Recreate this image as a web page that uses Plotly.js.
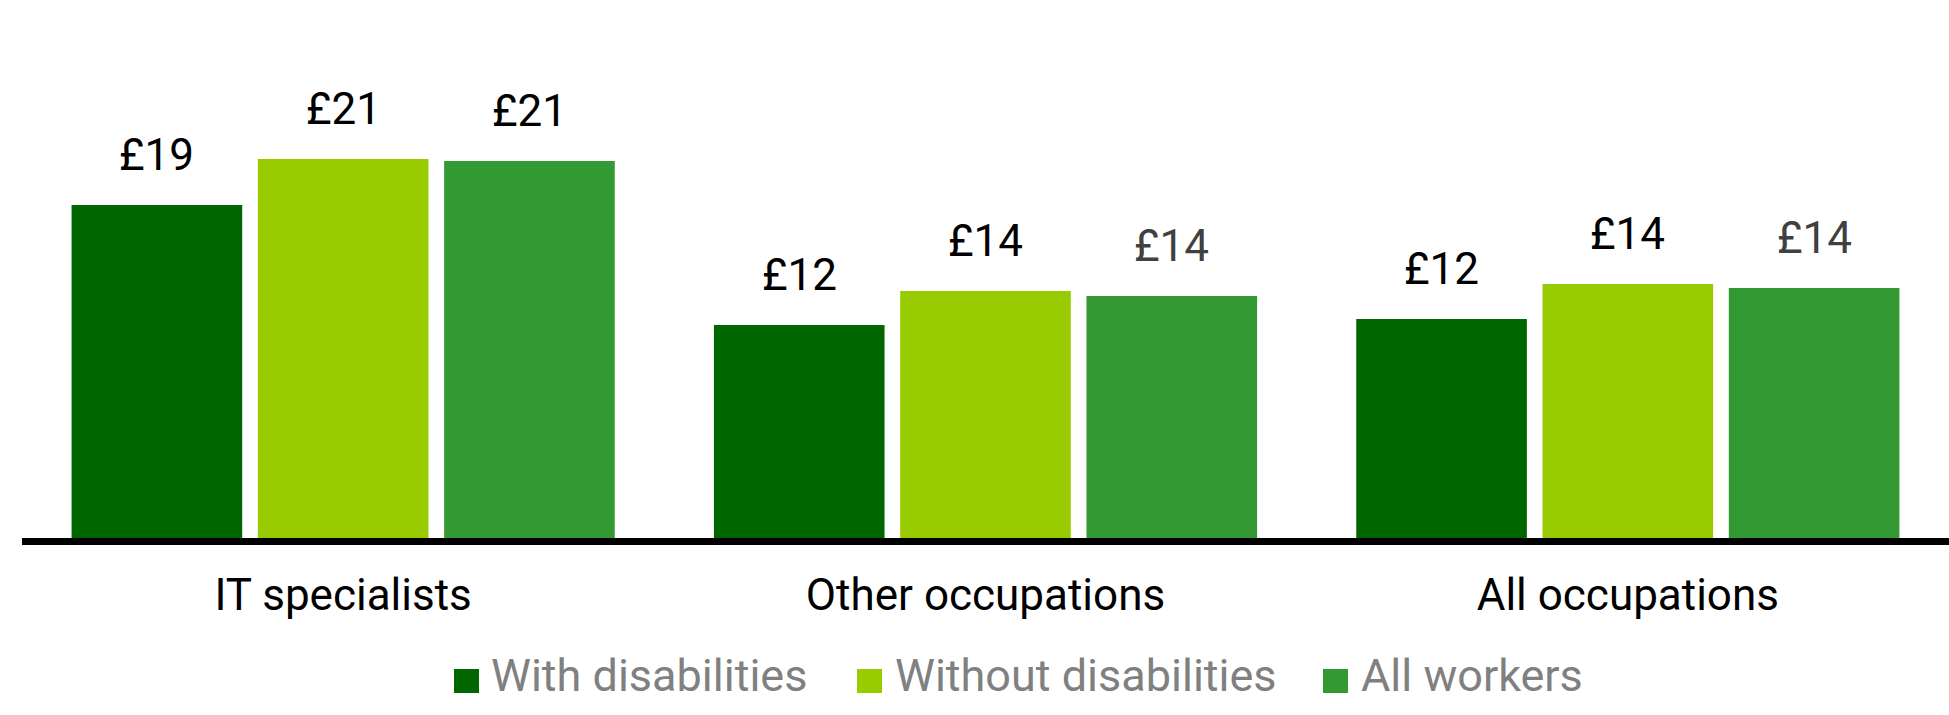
<!DOCTYPE html>
<html>
<head>
<meta charset="utf-8">
<script src="https://cdn.plot.ly/plotly-3.0.1.min.js"></script>
<style>html,body{margin:0;padding:0;background:#fff;}</style>
</head>
<body>
<div id="chart" style="width:1949px;height:715px;"></div>
<script>
// ---- data ----
const categories = ['IT specialists', 'Other occupations', 'All occupations'];
const seriesNames = ['With disabilities', 'Without disabilities', 'All workers'];
const withDisabilities = [18.71, 11.97, 12.30];
const withoutDisabilities = [21.29, 13.88, 14.27];
const allWorkers = [21.18, 13.60, 14.04];

// ---- styles ----
const seriesColors = ['#006600', '#99cc00', '#339933'];
const labelColors = [
  ['#000000', '#000000', '#000000'],
  ['#000000', '#000000', '#000000'],
  ['#000000', '#404040', '#404040']
];
const FONT = 'Roboto, "DejaVu Sans", sans-serif';

const seriesValues = [withDisabilities, withoutDisabilities, allWorkers];

const W = 1949, H = 715;
const margin = {l: 22, r: 0, t: 38, b: 177};
const bargap = 0.130, bargroupgap = 0.084;
const plotW = W - margin.l - margin.r;
const plotH = H - margin.t - margin.b;
const catPx = plotW / categories.length;
const slotPx = (1 - bargap) / seriesValues.length * catPx;

// pixel -> paper helpers (for the hand-placed legend)
const px2x = p => (p - margin.l) / plotW;
const px2y = p => (H - margin.b - p) / plotH;

const traces = seriesValues.map((vals, i) => ({
  type: 'bar',
  name: seriesNames[i],
  x: categories,
  y: vals,
  marker: {color: seriesColors[i], line: {width: 0}},
  hoverinfo: 'skip',
  showlegend: false
}));

const annotations = [];
seriesValues.forEach((vals, i) => {
  vals.forEach((v, j) => {
    annotations.push({
      xref: 'x', yref: 'y',
      x: categories[j], y: v,
      xshift: (i - (seriesValues.length - 1) / 2) * slotPx,
      yshift: 50,
      yanchor: 'middle', xanchor: 'center',
      showarrow: false,
      text: '£' + Math.round(v),
      font: {family: FONT, size: 44, color: labelColors[i][j]}
    });
  });
});

// legend (laid out like the reference)
const legendMarkerLeft = [454, 857, 1323];
const legendTextLeft = [489, 893, 1359];
const legendTop = 669, legendBottom = 693, legendMid = 675;
const shapes = [];
seriesNames.forEach((name, i) => {
  shapes.push({
    type: 'rect', xref: 'paper', yref: 'paper',
    x0: px2x(legendMarkerLeft[i]), x1: px2x(legendMarkerLeft[i] + 25),
    y0: px2y(legendBottom), y1: px2y(legendTop),
    fillcolor: seriesColors[i], line: {width: 0}
  });
  annotations.push({
    xref: 'paper', yref: 'paper',
    x: px2x(legendTextLeft[i]), y: px2y(legendMid),
    xanchor: 'left', yanchor: 'middle',
    showarrow: false,
    text: name,
    font: {family: FONT, size: 45, color: '#808080'}
  });
});

const layout = {
  width: W, height: H,
  margin: margin,
  paper_bgcolor: '#ffffff',
  plot_bgcolor: '#ffffff',
  barmode: 'group',
  bargap: bargap,
  bargroupgap: bargroupgap,
  showlegend: false,
  xaxis: {
    type: 'category',
    showline: true, linecolor: '#000000', linewidth: 7,
    ticks: '', showgrid: false, zeroline: false,
    tickfont: {family: FONT, size: 44, color: '#000000'},
    ticklabelstandoff: 12
  },
  yaxis: {
    range: [0, 28.09],
    visible: false, showgrid: false, zeroline: false
  },
  shapes: shapes,
  annotations: annotations
};

Plotly.newPlot('chart', traces, layout, {displayModeBar: false, staticPlot: true});
</script>
</body>
</html>
